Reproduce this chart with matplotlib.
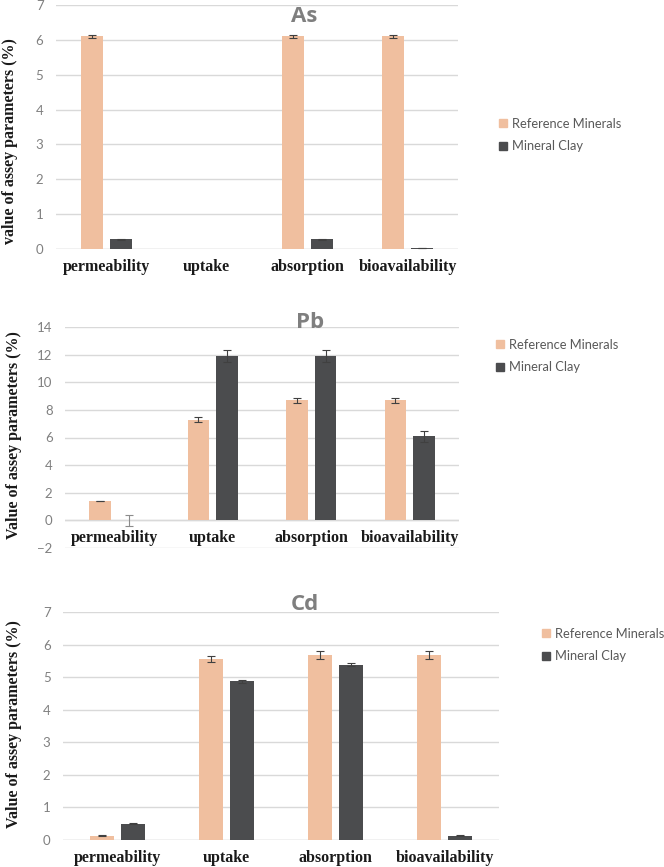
import numpy as np
import matplotlib
matplotlib.use('Agg')
from matplotlib import pyplot as plt
from matplotlib.patches import Patch
from matplotlib.transforms import offset_copy

categories = ['permeability', 'uptake', 'absorption', 'bioavailability']
series_names = ['Reference Minerals', 'Mineral Clay']

as_ref = [6.1, 0, 6.1, 6.1]
as_ref_err = [0.05, 0, 0.05, 0.05]
as_clay = [0.28, 0, 0.28, 0.02]
as_clay_err = [0.02, 0, 0.02, 0.005]

pb_ref = [1.4, 7.3, 8.7, 8.7]
pb_ref_err = [0.03, 0.15, 0.18, 0.18]
pb_clay = [0, 11.9, 11.9, 6.1]
pb_clay_err = [0.4, 0.4, 0.4, 0.4]

cd_ref = [0.13, 5.55, 5.68, 5.68]
cd_ref_err = [0.01, 0.1, 0.12, 0.12]
cd_clay = [0.5, 4.87, 5.38, 0.13]
cd_clay_err = [0.01, 0.05, 0.05, 0.01]

ref_color = '#F0BF9F'
clay_color = '#4B4C4E'
grid_color = '#D9D9D9'
tick_color = '#808080'
title_color = '#7F7F7F'
err_color = '#404040'

W, H = 664, 867
fig = plt.figure(figsize=(W / 100, H / 100), dpi=100)


def px_axes(left, right, top, bottom):
    return fig.add_axes([left / W, 1 - bottom / H, (right - left) / W, (bottom - top) / H])


def draw_panel(ax, ref, ref_err, clay, clay_err, ylim, step, title, title_xy,
               ylabel, label_xy, legend_xy, special_err=None):
    x = np.arange(len(categories))
    w = 0.22
    off = 0.145
    ax.bar(x - off, ref, w, color=ref_color, zorder=3)
    ax.bar(x + off, clay, w, color=clay_color, zorder=3)
    ref_e = np.array(ref_err)
    clay_e = np.array(clay_err)
    mask_r = ref_e > 0
    ax.errorbar((x - off)[mask_r], np.array(ref)[mask_r], yerr=ref_e[mask_r], fmt='none',
                ecolor=err_color, elinewidth=0.8, capsize=3, capthick=0.8, zorder=4)
    for i in np.where(clay_e > 0)[0]:
        col = '#8C8C8C' if special_err == i else err_color
        ax.errorbar(x[i] + off, clay[i], yerr=clay_e[i], fmt='none',
                    ecolor=col, elinewidth=0.8, capsize=3, capthick=0.8, zorder=4)
    ax.set_xlim(-0.5, len(categories) - 0.5)
    ax.set_ylim(*ylim)
    ax.set_yticks(np.arange(ylim[0], ylim[1] + 0.01, step))
    ax.yaxis.grid(True, color=grid_color, linewidth=1, zorder=0)
    ax.set_axisbelow(True)
    for s in ax.spines.values():
        s.set_visible(False)
    ax.axhline(0, color=grid_color, linewidth=1, zorder=1)
    ax.set_xticks([])
    ax.tick_params(axis='y', length=0, pad=9, labelcolor=tick_color, labelsize=9.5)
    for lab in ax.get_yticklabels():
        lab.set_fontfamily('Lato')
    trans = offset_copy(ax.transData, fig=fig, y=-18, units='dots')
    for i, c in enumerate(categories):
        ax.text(i, 0, c, transform=trans, ha='center', va='center',
                fontfamily='Liberation Serif', fontweight='bold', fontsize=11.5, color='#1A1A1A')
    fig.text(label_xy[0] / W, 1 - label_xy[1] / H, ylabel, rotation=90, ha='center', va='center',
             fontfamily='Liberation Serif', fontweight='bold', fontsize=11.5, color='#1A1A1A')
    fig.text(title_xy[0] / W, 1 - title_xy[1] / H, title, ha='center', va='center',
             fontfamily='Open Sans', fontweight='bold', fontsize=16, color=title_color)
    handles = [Patch(color=ref_color), Patch(color=clay_color)]
    ax.legend(handles, series_names, loc='center left',
              bbox_to_anchor=(legend_xy[0] / W, 1 - legend_xy[1] / H),
              bbox_transform=fig.transFigure, frameon=False,
              prop={'family': 'Lato', 'size': 9.3}, labelcolor='#595959',
              handlelength=0.6, handleheight=0.6, handletextpad=0.4,
              labelspacing=0.8, borderpad=0, borderaxespad=0)


ax1 = px_axes(56, 458, 5, 249)
draw_panel(ax1, as_ref, as_ref_err, as_clay, as_clay_err, (0, 7), 1, 'As', (304, 17),
           'value of assey parameters (%)', (10, 141), (499, 135))

ax2 = px_axes(65, 459, 327, 548)
draw_panel(ax2, pb_ref, pb_ref_err, pb_clay, pb_clay_err, (-2, 14), 2, 'Pb', (310, 322),
           'Value of assey parameters (%)', (14, 435), (496, 356), special_err=0)

ax3 = px_axes(63, 499, 612, 840)
draw_panel(ax3, cd_ref, cd_ref_err, cd_clay, cd_clay_err, (0, 7), 1, 'Cd', (305, 605),
           'Value of assey parameters (%)', (14, 724), (542, 645))

fig.savefig('out.png', dpi=100)
